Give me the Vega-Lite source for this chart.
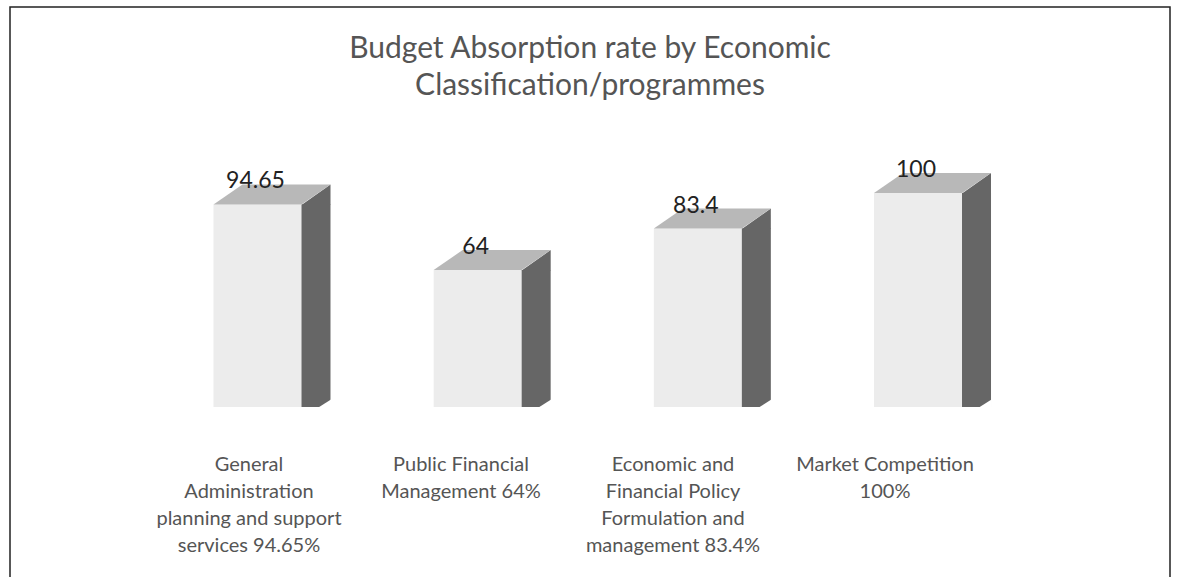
{
  "$schema": "https://vega.github.io/schema/vega-lite/v6.json",
  "autosize": "none",
  "width": 1160,
  "height": 580,
  "padding": {"left": 10, "top": 7, "right": 28, "bottom": 0},
  "background": "white",
  "config": {
    "view": {"stroke": "#222", "strokeWidth": 1.5},
    "font": "Lato"
  },
  "title": {
    "text": ["Budget Absorption rate by Economic", "Classification/programmes"],
    "font": "Lato",
    "fontSize": 30,
    "fontWeight": "normal",
    "color": "#555",
    "lineHeight": 37,
    "anchor": "middle",
    "frame": "group",
    "offset": -94
  },
  "data": {
    "values": [
      {"program": "General|Administration|planning and support|services 94.65%", "value": 94.65, "label": "94.65"},
      {"program": "Public Financial|Management 64%", "value": 64, "label": "64"},
      {"program": "Economic and|Financial Policy|Formulation and|management 83.4%", "value": 83.4, "label": "83.4"},
      {"program": "Market Competition|100%", "value": 100, "label": "100"}
    ]
  },
  "layer": [
    {
      "encoding": {
        "x": {
          "field": "program",
          "type": "nominal",
          "sort": null,
          "scale": {"type": "band", "range": [137.4, 1018.1], "paddingInner": 0, "paddingOuter": 0},
          "axis": null
        }
      },
      "layer": [
        {
          "mark": {"type": "bar", "width": 88, "y2Offset": 11, "fill": "#ececec"},
          "encoding": {
            "y": {"field": "value", "type": "quantitative", "scale": {"domain": [0, 100], "range": [400, 186], "nice": false, "zero": true}, "axis": null}
          }
        },
        {
          "mark": {"type": "bar", "width": 29, "xOffset": 58.5, "y2Offset": 11, "fill": "#666"},
          "encoding": {"y": {"field": "value", "type": "quantitative"}}
        },
        {
          "mark": {"type": "point", "shape": "M -14.5 0.5 L 14.5 -20 L 14.5 0.5 Z", "size": 4, "filled": true, "fill": "#666", "strokeWidth": 0, "opacity": 1, "xOffset": 58.5},
          "encoding": {"y": {"field": "value", "type": "quantitative"}}
        },
        {
          "mark": {"type": "point", "shape": "M -44 0 L 44 0 L 73 -20 L -15 -20 Z", "size": 4, "filled": true, "fill": "#b8b8b8", "strokeWidth": 0, "opacity": 1},
          "encoding": {"y": {"field": "value", "type": "quantitative"}}
        },
        {
          "mark": {"type": "point", "shape": "M -15 0.5 L 15 -18.5 L 15 1 L -15 1 Z", "size": 4, "filled": true, "fill": "white", "strokeWidth": 0, "opacity": 1, "xOffset": 58.5, "yOffset": 11},
          "encoding": {"y": {"datum": 0, "type": "quantitative"}}
        },
        {
          "mark": {"type": "text", "font": "Lato", "fontSize": 23, "color": "#222", "baseline": "bottom", "dy": -11, "xOffset": -2},
          "encoding": {
            "y": {"field": "value", "type": "quantitative"},
            "text": {"field": "label", "type": "nominal"}
          }
        }
      ]
    },
    {
      "mark": {"type": "text", "font": "Lato", "fontSize": 20, "color": "#555", "baseline": "top", "align": "center", "lineBreak": "|", "lineHeight": 27, "dy": 48},
      "encoding": {
        "x": {
          "field": "program",
          "type": "nominal",
          "sort": null,
          "scale": {"type": "band", "range": [133, 981], "paddingInner": 0, "paddingOuter": 0},
          "axis": null
        },
        "y": {"datum": 0, "type": "quantitative"},
        "text": {"field": "program", "type": "nominal"}
      }
    }
  ],
  "resolve": {"scale": {"x": "independent"}}
}
